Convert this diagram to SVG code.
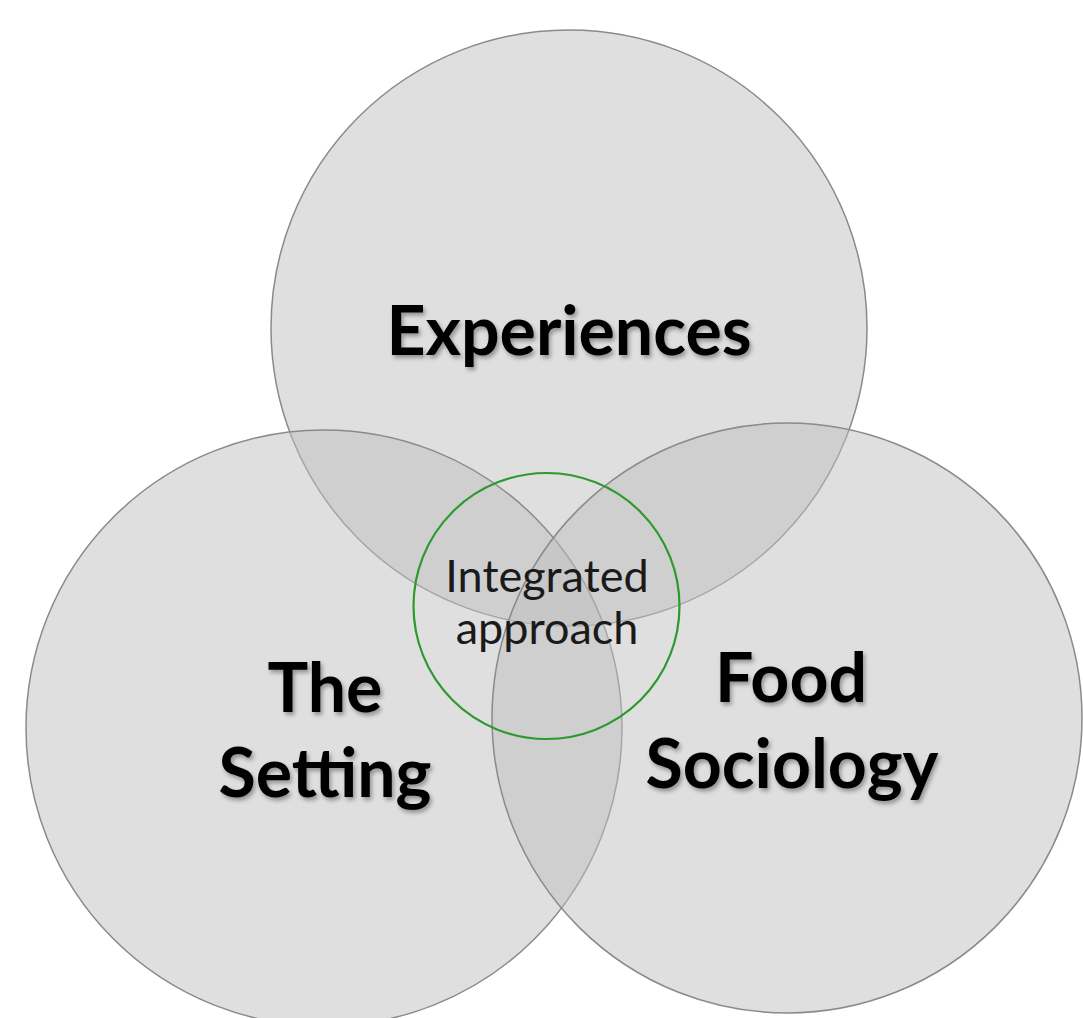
<svg xmlns="http://www.w3.org/2000/svg" width="1083" height="1018" viewBox="0 0 1083 1018">
  <defs>
    <filter id="textShadow" x="-10%" y="-20%" width="130%" height="150%">
      <feDropShadow dx="2" dy="3" stdDeviation="2" flood-color="#000" flood-opacity="0.35"/>
    </filter>
  </defs>
  <style>
    .set { fill: #bfbfbf; fill-opacity: 0.5; stroke: #8a8a8a; stroke-width: 1.5; }
    .core { fill: none; stroke: #2e9a2e; stroke-width: 2.2; }
    .label { font-family: Lato, "Open Sans", "Liberation Sans", sans-serif; font-weight: 700; font-size: 68px; fill: #000; text-anchor: middle; }
    .core-label { font-family: Lato, "Open Sans", "Liberation Sans", sans-serif; font-weight: 400; font-size: 45px; fill: #1a1a1a; text-anchor: middle; }
  </style>
  <rect width="1083" height="1018" fill="#ffffff"/>

  <!-- three overlapping sets -->
  <g id="experiences">
    <circle class="set" cx="569" cy="328" r="298"/>
  </g>
  <g id="the-setting">
    <circle class="set" cx="324" cy="728" r="298"/>
  </g>
  <g id="food-sociology">
    <circle class="set" cx="787" cy="718" r="295"/>
  </g>

  <!-- central intersection ring -->
  <g id="integrated-approach">
    <circle class="core" cx="546.5" cy="606" r="133"/>
    <text class="core-label" x="547" y="592">Integrated</text>
    <text class="core-label" x="547" y="644">approach</text>
  </g>

  <!-- set titles -->
  <g id="set-labels" filter="url(#textShadow)">
    <text class="label" x="569" y="355">Experiences</text>
    <text class="label" x="325" y="712">The</text>
    <text class="label" x="325" y="797">Setting</text>
    <text class="label" x="791" y="702">Food</text>
    <text class="label" x="792" y="788">Sociology</text>
  </g>
</svg>
